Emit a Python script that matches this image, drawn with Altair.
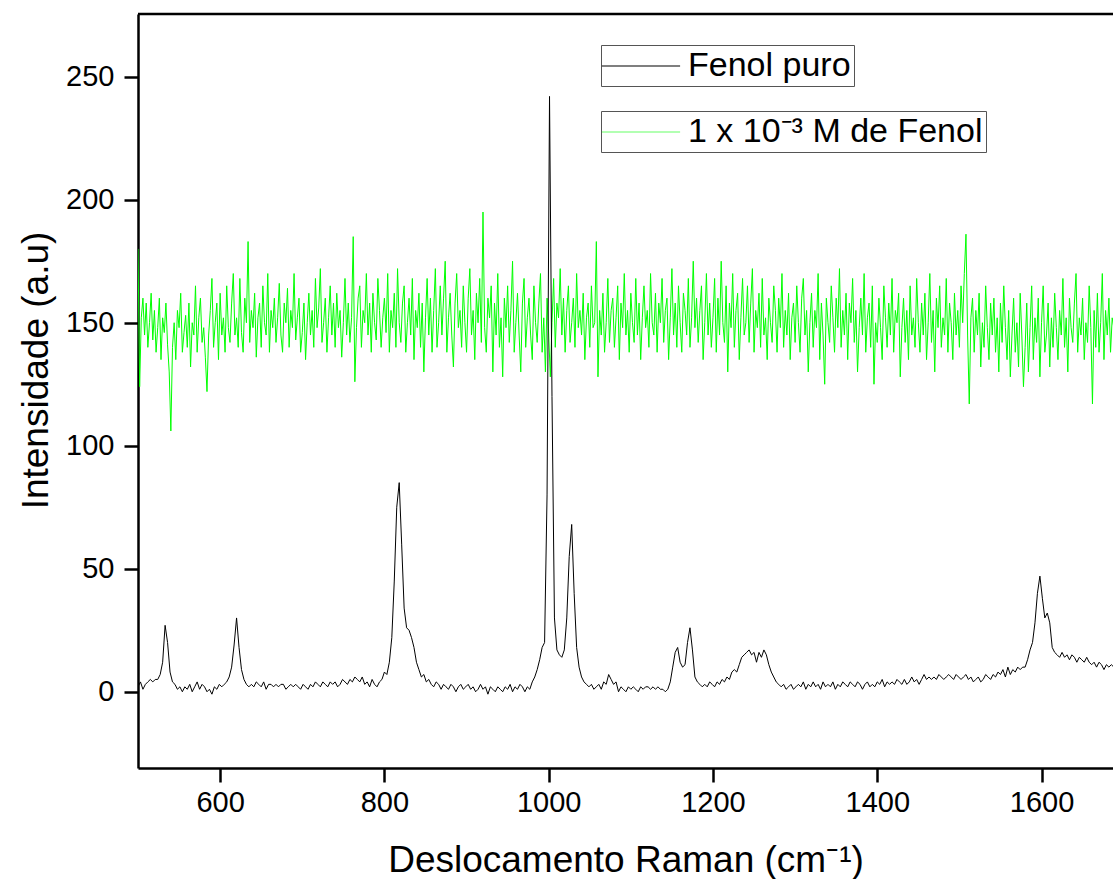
import altair as alt
import pandas as pd

# Raman shift grids (cm-1): start and step of the sampled spectra
X_START = 500
STEP_PURO = 3
STEP_DIL = 2

# Intensity of pure phenol (a.u.), rows of 10 samples (30 cm-1 each)
fenol_puro = [
    2, 4, 1, 3, 4, 5, 4, 5, 5, 7,
    12, 27, 20, 8, 4, 3, 1, 2, 0, 2,
    1, 3, 0, 2, 4, 1, 3, 2, 0, 1,
    -1, 2, 1, 3, 2, 3, 4, 6, 10, 19,
    30, 18, 9, 5, 3, 2, 3, 2, 4, 3,
    2, 4, 1, 3, 3, 2, 3, 2, 3, 3,
    1, 2, 3, 2, 3, 2, 1, 3, 2, 1,
    3, 2, 4, 3, 2, 4, 3, 2, 4, 3,
    4, 2, 3, 5, 4, 3, 5, 4, 6, 5,
    4, 6, 3, 4, 2, 5, 3, 2, 4, 5,
    8, 7, 12, 22, 45, 75, 85, 60, 34, 26,
    25, 22, 18, 12, 9, 6, 7, 4, 5, 3,
    2, 4, 3, 1, 3, 2, 1, 3, 2, 0,
    2, 3, 1, 2, 3, 1, 2, 0, 1, 3,
    1, 2, -1, 2, 1, 0, 2, 1, 0, 2,
    1, 3, 0, 2, 1, 3, 2, 0, 2, 1,
    4, 6, 9, 13, 18, 20, 80, 242, 120, 30,
    17, 15, 14, 17, 30, 55, 68, 40, 18, 10,
    6, 4, 3, 2, 3, 1, 2, 3, 1, 4,
    3, 7, 5, 3, 4, 0, 2, 1, 0, 2,
    1, 2, 1, 0, 2, 1, 2, 2, 1, 2,
    1, 2, 1, 1, 0, 1, 4, 10, 16, 18,
    12, 10, 11, 20, 26, 17, 6, 4, 3, 2,
    3, 2, 4, 3, 2, 4, 3, 5, 4, 6,
    5, 8, 9, 8, 11, 14, 15, 16, 17, 15,
    16, 12, 16, 14, 17, 15, 11, 8, 6, 4,
    3, 2, 3, 1, 2, 3, 1, 2, 3, 2,
    4, 1, 3, 2, 4, 2, 3, 1, 4, 2,
    3, 2, 4, 1, 3, 2, 4, 3, 2, 4,
    3, 2, 4, 3, 1, 3, 4, 2, 3, 2,
    4, 3, 5, 2, 4, 3, 4, 3, 5, 4,
    3, 5, 3, 4, 6, 4, 5, 3, 5, 7,
    5, 6, 5, 6, 5, 7, 6, 5, 6, 7,
    6, 5, 7, 6, 5, 6, 7, 5, 6, 4,
    5, 6, 4, 5, 7, 6, 5, 7, 6, 8,
    7, 9, 6, 10, 7, 9, 8, 10, 9, 10,
    10, 13, 17, 20, 28, 40, 47, 38, 30, 32,
    28, 18, 16, 15, 14, 16, 14, 15, 13, 15,
    14, 12, 14, 13, 12, 14, 12, 11, 12, 10,
    12, 11, 9, 11, 10, 11, 10, 9, 10, 10,
]

# Intensity of 1e-3 M phenol solution (a.u.), rows of 10 samples (20 cm-1 each)
fenol_diluido = [
    180, 124, 152, 160, 145, 158, 140, 150, 162, 143,
    155, 138, 148, 160, 135, 152, 146, 158, 141, 130,
    106, 140, 150, 135, 155, 148, 162, 138, 146, 153,
    140, 158, 132, 150, 145, 165, 138, 152, 160, 142,
    148, 136, 122, 145, 155, 168, 140, 150, 158, 135,
    162, 145, 152, 138, 165, 148, 142, 158, 170, 145,
    152, 140, 168, 146, 138, 160, 150, 183, 142, 155,
    148, 162, 136, 152, 158, 140, 165, 150, 145, 170,
    138, 155, 148, 160, 142, 152, 166, 145, 138, 158,
    150, 164, 140, 155, 148, 170, 143, 152, 160, 138,
    146, 158, 135, 150, 162, 145, 155, 140, 168, 148,
    156, 172, 142, 150, 160, 138, 152, 165, 145, 158,
    140, 162, 148, 155, 136, 150, 168, 145, 158, 142,
    152, 185, 126, 148, 160, 165, 140, 155, 150, 170,
    145, 158, 138, 162, 150, 143, 168, 155, 140, 152,
    160, 146, 170, 138, 155, 148, 162, 140, 172, 150,
    142, 158, 165, 138, 150, 160, 145, 168, 135, 155,
    148, 162, 140, 158, 130, 152, 168, 145, 160, 138,
    155, 172, 140, 150, 165, 145, 160, 175, 138, 152,
    162, 145, 132, 158, 170, 148, 155, 140, 165, 150,
    138, 160, 172, 145, 155, 135, 162, 150, 168, 142,
    195, 148, 138, 160, 152, 165, 130, 158, 145, 170,
    140, 152, 128, 160, 148, 165, 142, 155, 175, 138,
    150, 162, 145, 130, 158, 168, 140, 152, 160, 145,
    135, 165, 150, 142, 158, 170, 138, 152, 130, 160,
    145, 128, 150, 168, 140, 158, 152, 172, 145, 160,
    138, 155, 165, 142, 150, 160, 140, 170, 148, 155,
    145, 162, 135, 152, 158, 140, 165, 148, 150, 183,
    128, 155, 145, 162, 138, 150, 168, 142, 155, 160,
    140, 152, 165, 135, 158, 148, 170, 145, 155, 138,
    162, 150, 142, 168, 145, 158, 135, 152, 165, 148,
    155, 140, 170, 150, 145, 162, 138, 158, 150, 168,
    142, 155, 160, 135, 152, 172, 145, 158, 140, 165,
    150, 138, 162, 155, 145, 168, 140, 152, 175, 148,
    160, 142, 155, 165, 135, 150, 170, 145, 158, 140,
    152, 168, 138, 160, 145, 175, 150, 142, 165, 130,
    158, 148, 170, 140, 155, 162, 135, 152, 168, 145,
    150, 165, 142, 158, 172, 138, 155, 148, 162, 140,
    168, 145, 152, 135, 160, 150, 142, 165, 155, 138,
    160, 148, 170, 140, 155, 145, 162, 135, 152, 158,
    142, 165, 150, 138, 160, 168, 145, 155, 130, 150,
    162, 140, 155, 148, 170, 135, 158, 145, 125, 160,
    150, 142, 165, 152, 138, 160, 148, 172, 140, 155,
    145, 162, 135, 158, 150, 168, 142, 155, 130, 148,
    160, 145, 170, 138, 152, 158, 140, 165, 125, 150,
    142, 160, 148, 135, 165, 152, 140, 158, 145, 168,
    138, 155, 150, 162, 128, 148, 160, 142, 155, 135,
    165, 145, 152, 140, 168, 150, 138, 158, 145, 162,
    135, 150, 170, 142, 155, 130, 160, 148, 165, 140,
    152, 145, 168, 138, 158, 150, 135, 162, 145, 155,
    140, 165, 150, 170, 186, 145, 117, 152, 160, 138,
    155, 145, 162, 132, 150, 140, 165, 148, 135, 158,
    145, 160, 138, 152, 130, 158, 142, 165, 148, 135,
    155, 128, 145, 160, 138, 150, 132, 162, 145, 124,
    140, 158, 130, 148, 165, 135, 152, 142, 160, 128,
    150, 165, 138, 145, 158, 132, 152, 140, 162, 148,
    135, 155, 145, 168, 140, 152, 130, 160, 148, 142,
    158, 170, 138, 152, 145, 160, 135, 150, 142, 165,
    148, 117, 155, 140, 162, 138, 150, 170, 135, 155,
    145, 160, 138, 152, 148, 140, 158, 145, 150, 142,
]

series_names = ["Fenol puro", "1 x 10\u207b\u00b3 M de Fenol"]
series_colors = ["#000000", "#00ff00"]

x_ticks = [600, 800, 1000, 1200, 1400, 1600]
y_ticks = [0, 50, 100, 150, 200, 250]
x_domain = [500, 1687]
y_domain = [-31, 275.5]

df_puro = pd.DataFrame({
    "x": [X_START + STEP_PURO * i for i in range(len(fenol_puro))],
    "y": fenol_puro,
    "serie": series_names[0],
})
df_dil = pd.DataFrame({
    "x": [X_START + STEP_DIL * i for i in range(len(fenol_diluido))],
    "y": fenol_diluido,
    "serie": series_names[1],
})

FONT = "Liberation Sans"
W, H = 975, 754

x_enc = alt.X(
    "x:Q",
    scale=alt.Scale(domain=x_domain, nice=False, zero=False),
    axis=alt.Axis(
        values=x_ticks,
        format="d",
        title="Deslocamento Raman (cm\u207b\u00b9)",
        titleFontSize=37,
        titleBaseline="alphabetic",
        titleY=103,
        labelPadding=6,
    ),
)
y_enc = alt.Y(
    "y:Q",
    scale=alt.Scale(domain=y_domain, nice=False, zero=False),
    axis=alt.Axis(
        values=y_ticks,
        format="d",
        title="Intensidade (a.u)",
        titleFontSize=37,
        titleAngle=-90,
        titleBaseline="alphabetic",
        titleX=-91,
        titleY=356,
        labelPadding=10,
    ),
)


def make_legend(y_off, opacity):
    return alt.Legend(
        title=None,
        orient="none",
        legendX=463,
        legendY=y_off,
        padding=3,
        strokeColor="#555555",
        labelFontSize=34,
        labelFont=FONT,
        labelColor="black",
        labelLimit=500,
        labelOffset=29,
        symbolType="M-2.3,0H2.3",
        symbolSize=1156,
        symbolOffset=19,
        symbolStrokeWidth=1.2,
        symbolOpacity=opacity,
    )


black = alt.Chart(df_puro).mark_line(strokeWidth=1, clip=True).encode(
    x=x_enc,
    y=y_enc,
    color=alt.Color(
        "serie:N",
        scale=alt.Scale(domain=[series_names[0]], range=[series_colors[0]]),
        legend=make_legend(31, 1),
    ),
)

green = alt.Chart(df_dil).mark_line(strokeWidth=1, clip=True).encode(
    x=x_enc,
    y=y_enc,
    color=alt.Color(
        "serie:N",
        scale=alt.Scale(domain=[series_names[1]], range=[series_colors[1]]),
        legend=make_legend(97, 0.6),
    ),
)

frame = alt.Chart(pd.DataFrame({"k": [0]})).mark_rule(
    color="black", strokeWidth=2.5
).encode(y=alt.value(0), x=alt.value(0), x2=alt.value(W + 5))

chart = (
    alt.layer(green, black, frame)
    .resolve_scale(color="independent")
    .properties(
        width=W,
        height=H,
        padding={"left": 138, "top": 14, "right": 0, "bottom": 111},
        autosize=alt.AutoSizeParams(type="none"),
        background="white",
    )
    .configure_view(stroke=None)
    .configure_axis(
        grid=False,
        domainColor="black",
        domainWidth=2.5,
        tickColor="black",
        tickWidth=2.5,
        tickSize=14,
        labelFont=FONT,
        labelFontSize=29,
        labelColor="black",
        titleFont=FONT,
        titleColor="black",
        titleFontWeight="normal",
    )
)

chart.save("out.html", embed_options={"renderer": "svg", "actions": False})
